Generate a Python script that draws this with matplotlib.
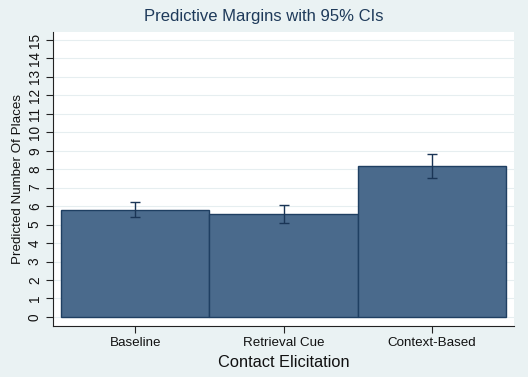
import matplotlib
matplotlib.use("Agg")
import matplotlib.pyplot as plt
import numpy as np

categories = ["Baseline", "Retrieval Cue", "Context-Based"]
margins = [5.80, 5.57, 8.16]
ci_low = [5.40, 5.07, 7.50]
ci_high = [6.21, 6.05, 8.81]
yticks = list(range(0, 16))

plt.rcParams['font.family'] = ['Liberation Sans', 'DejaVu Sans']

bg = '#EAF2F3'
fig = plt.figure(figsize=(5.28, 3.77), dpi=100, facecolor=bg)
ax = fig.add_axes([53/528, 1-326/377, (514-53)/528, (326-32)/377])
ax.set_facecolor('white')

x = np.arange(len(categories))
m = np.array(margins)
lo = np.array(ci_low)
hi = np.array(ci_high)
ax.bar(x, m, width=1.0, color='#4A6A8C', edgecolor='#1F3F62', linewidth=1.0, zorder=2)
ax.errorbar(x, m, yerr=[m - lo, hi - m], fmt='none', ecolor='#1A3556',
            elinewidth=1.0, capsize=3.5, capthick=1.0, zorder=3)

ax.set_xlim(-0.554, 2.554)
ax.set_ylim(-0.49, 15.43)
ax.set_yticks(yticks)
ax.set_yticklabels([str(t) for t in yticks], rotation=90, va='center', fontsize=9.8)
ax.set_xticks(x)
ax.set_xticklabels(categories, fontsize=9.6)
ax.grid(axis='y', color='#E6EEF0', linewidth=0.8, zorder=0)
ax.set_axisbelow(True)

for s in ['top', 'right']:
    ax.spines[s].set_visible(False)
for s in ['left', 'bottom']:
    ax.spines[s].set_color('#222222')
    ax.spines[s].set_linewidth(0.8)
ax.tick_params(axis='both', direction='out', length=5, width=0.8, color='#222222',
               labelcolor='#111111', pad=3)

ax.set_xlabel("Contact Elicitation", fontsize=11.8, color='#111111', labelpad=4)
ax.set_ylabel("Predicted Number Of Places", fontsize=9.6, color='#111111', labelpad=3)
fig.text(0.5, 1 - 17/377, "Predictive Margins with 95% CIs", ha='center', va='center',
         fontsize=12, color='#1E3A5A')

fig.savefig("out.png", dpi=100, facecolor=bg)
